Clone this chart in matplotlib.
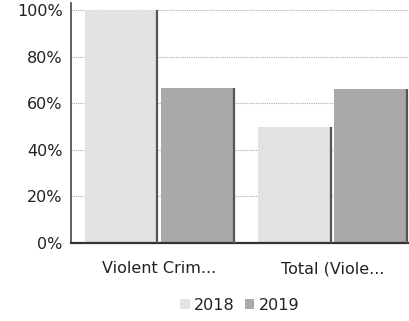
import numpy as np
import matplotlib.pyplot as plt
from matplotlib.ticker import PercentFormatter

categories = ['Violent Crim...', 'Total (Viole...']
years = ['2018', '2019']
values_2018 = [1.00, 0.50]
values_2019 = [0.665, 0.66]
colors = ['#e2e2e2', '#a9a9a9']

plt.rcParams['font.family'] = ['DejaVu Sans']

fig = plt.figure(figsize=(4.10, 3.21), dpi=100)
ax = fig.add_axes([0.173, 0.243, 0.84, 0.747])

x = np.arange(len(categories))
width = 0.42
offset = 0.22
for vals, off, col, yr in [(values_2018, -offset, colors[0], years[0]),
                           (values_2019, offset, colors[1], years[1])]:
    bars = ax.bar(x + off, vals, width, color=col, label=yr, zorder=2)
    # darker shading on the right side of each bar
    ax.vlines(x + off + width / 2, 0, vals, color='#555555', lw=1.6, zorder=3)

ax.set_ylim(0, 1.03)
ax.set_xlim(-0.51, 1.48)
ax.set_yticks(np.arange(0, 1.01, 0.2))
ax.yaxis.set_major_formatter(PercentFormatter(1.0, decimals=0))
ax.set_xticks(x)
ax.set_xticklabels(categories)
ax.grid(axis='y', color='#aaaaaa', ls=(0, (1, 1)), lw=0.8, zorder=0)
ax.tick_params(axis='y', length=0, labelsize=11.5, colors='#222222', pad=6)
ax.tick_params(axis='x', length=0, labelsize=11.5, colors='#222222', pad=13)

for side in ['top', 'right']:
    ax.spines[side].set_visible(False)
ax.spines['left'].set_color('#444444')
ax.spines['left'].set_linewidth(1.2)
ax.spines['bottom'].set_color('#333333')
ax.spines['bottom'].set_linewidth(1.6)

fig.legend(loc='lower center', bbox_to_anchor=(0.585, -0.02), ncol=2, frameon=False,
           fontsize=11.5, handlelength=0.6, handleheight=0.6, handletextpad=0.3,
           columnspacing=0.6, labelcolor='#222222')

fig.savefig('out.png', dpi=100)
